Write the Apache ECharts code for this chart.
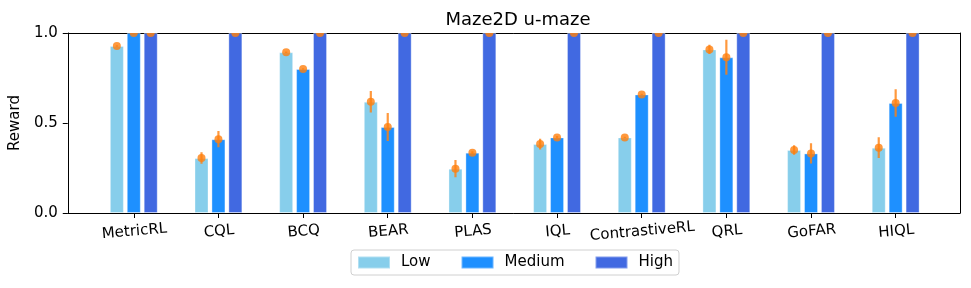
<!DOCTYPE html>
<html><head><meta charset="utf-8">
<script src="https://cdn.jsdelivr.net/npm/echarts@6/dist/echarts.min.js"></script>
<style>html,body{margin:0;padding:0;background:#fff}#c{width:971px;height:288px}</style>
</head><body><div id="c"></div>
<script>
const categories = ['MetricRL','CQL','BCQ','BEAR','PLAS','IQL','ContrastiveRL','QRL','GoFAR','HIQL'];
const lowValues  = [0.928,0.305,0.893,0.618,0.246,0.383,0.420,0.909,0.350,0.363];
const lowErr     = [0.004,0.032,0.004,0.060,0.048,0.030,0.004,0.026,0.026,0.058];
const medValues  = [1.0,0.410,0.800,0.478,0.335,0.420,0.659,0.865,0.331,0.611];
const medErr     = [0.0,0.045,0.004,0.078,0.008,0.008,0.004,0.097,0.056,0.076];
const highValues = [1.0,1.0,1.0,1.0,1.0,1.0,1.0,1.0,1.0,1.0];
const highErr    = [0,0,0,0,0,0,0,0,0,0];
const yTicks = [0, 0.5, 1.0];

const OFF = 0.2;
const colors = {Low:'#87CEEB', Medium:'#1E90FF', High:'#4169E1'};
const groups = [
  {name:'Low', vals:lowValues, errs:lowErr, off:-OFF},
  {name:'Medium', vals:medValues, errs:medErr, off:0},
  {name:'High', vals:highValues, errs:highErr, off:OFF}
];
const tickIdx = categories.map((c,i)=>i);
const font = 'DejaVu Sans';

const series = [];
groups.forEach(g=>{
  series.push({
    name:g.name, type:'bar', xAxisIndex:0, yAxisIndex:0,
    barWidth:14, barGap:'-100%',
    itemStyle:{color:colors[g.name], borderColor:'rgba(255,255,255,0.35)', borderWidth:1},
    data:g.vals.map((v,i)=>[i+g.off, v]),
    z:2
  });
});
const errData = [];
groups.forEach(g=>{ g.vals.forEach((v,i)=>errData.push([i+g.off, v, g.errs[i]])); });
series.push({
  type:'custom', xAxisIndex:0, yAxisIndex:0, z:5, clip:true,
  data:errData,
  renderItem:function(params, api){
    const x = api.value(0), y = api.value(1), e = api.value(2);
    const c = api.coord([x,y]);
    const lo = api.coord([x,y-e]);
    const hi = api.coord([x,y+e]);
    const col = 'rgba(255,127,14,0.8)';
    const cs = params.coordSys;
    return {type:'group', clipPath:{type:'rect', shape:{x:cs.x, y:cs.y, width:cs.width, height:cs.height}}, children:[
      {type:'line', shape:{x1:lo[0],y1:lo[1],x2:hi[0],y2:hi[1]}, style:{stroke:col, lineWidth:2.2}},
      {type:'circle', shape:{cx:c[0], cy:c[1], r:4}, style:{fill:col}}
    ]};
  }
});

const chart = echarts.init(document.getElementById('c'));
chart.setOption({
  animation:false,
  backgroundColor:'#fff',
  textStyle:{fontFamily:font},
  title:{text:'Maze2D u-maze', left:513, top:6, textAlign:'center',
    textStyle:{fontFamily:font, fontSize:18, fontWeight:'normal', color:'#000'}},
  legend:{
    left:351, top:250, data:['Low','Medium','High'],
    icon:'rect', itemWidth:32, itemHeight:12, itemGap:30,
    padding:[5,6], borderColor:'#d0d0d0', borderWidth:1, borderRadius:3,
    textStyle:{fontFamily:font, fontSize:15, color:'#000', padding:[0,0,0,6]}
  },
  grid:{left:67, right:11, top:33, bottom:75},
  xAxis:[{
    type:'value', min:-0.78, max:9.76,
    splitLine:{show:false},
    axisLine:{show:true, onZero:false, lineStyle:{color:'#000', width:1}},
    axisTick:{show:true, length:5, customValues:tickIdx, lineStyle:{color:'#000'}},
    axisLabel:{customValues:tickIdx, formatter:v=>categories[Math.round(v)],
      rotate:5, align:'center', verticalAlign:'top', margin:11,
      fontFamily:font, fontSize:15, color:'#000'}
  },{
    type:'value', position:'top', min:-0.78, max:9.76,
    splitLine:{show:false}, axisTick:{show:false}, axisLabel:{show:false},
    axisLine:{show:true, onZero:false, lineStyle:{color:'#000', width:1}}
  }],
  yAxis:[{
    type:'value', min:0, max:1, interval:0.5,
    name:'Reward', nameLocation:'middle', nameGap:39,
    nameTextStyle:{fontFamily:font, fontSize:15, color:'#000'},
    splitLine:{show:false},
    axisLine:{show:true, onZero:false, lineStyle:{color:'#000', width:1}},
    axisTick:{show:true, length:5, lineStyle:{color:'#000'}},
    axisLabel:{formatter:v=>v.toFixed(1), margin:10, fontFamily:font, fontSize:15, color:'#000'}
  },{
    type:'value', position:'right', min:0, max:1, interval:0.5,
    splitLine:{show:false}, axisTick:{show:false}, axisLabel:{show:false},
    axisLine:{show:true, onZero:false, lineStyle:{color:'#000', width:1}}
  }],
  series:series
});
</script></body></html>
